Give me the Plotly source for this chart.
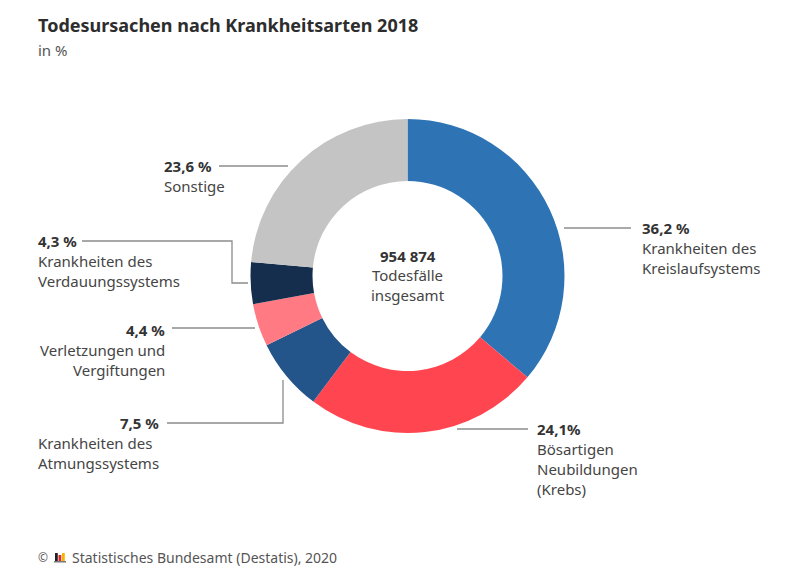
import plotly.graph_objects as go

# ---- data ----
categories = [
    "Krankheiten des Kreislaufsystems",
    "Bösartigen Neubildungen (Krebs)",
    "Krankheiten des Atmungssystems",
    "Verletzungen und Vergiftungen",
    "Krankheiten des Verdauungssystems",
    "Sonstige",
]
values = [36.2, 24.1, 7.5, 4.4, 4.3, 23.6]
value_labels = ["36,2 %", "24,1%", "7,5 %", "4,4 %", "4,3 %", "23,6 %"]
colors = ["#2e74b5", "#ff4650", "#23548a", "#ff7a82", "#152e4d", "#c4c4c4"]
total_label = "954 874"
center_lines = ["Todesfälle", "insgesamt"]

# page has an 8px body margin; figure sized to fit the window
OFF = 8
W, H = 800 - 2 * OFF, 588 - 2 * OFF
FONT = "Noto Sans"
TXT = "#454545"
BOLD = "#333333"
LINE = "#8c8c8c"
FS = 15


def px(x):
    return (x - OFF) / W


def py(y):
    return 1 - (y - OFF) / H


cx, cy, R = 407.5, 276, 157

fig = go.Figure()
fig.add_trace(go.Pie(
    labels=categories,
    values=values,
    hole=0.605,
    sort=False,
    direction="clockwise",
    rotation=0,
    marker=dict(colors=colors, line=dict(width=0)),
    textinfo="none",
    hovertemplate="%{label}: %{value} %<extra></extra>",
    domain=dict(x=[px(cx - R), px(cx + R)], y=[py(cy + R), py(cy - R)]),
    showlegend=False,
))

ann = []
shapes = []


def text(x, y, s, bold=False, anchor="left", size=FS, color=None):
    ann.append(dict(
        x=px(x), y=py(y), xref="paper", yref="paper",
        text=f"<b>{s}</b>" if bold else s,
        showarrow=False, xanchor=anchor, yanchor="middle",
        font=dict(family=FONT, size=size, color=color or (BOLD if bold else TXT)),
    ))


def line(pts):
    path = "M " + " L ".join(f"{px(x)},{py(y)}" for x, y in pts)
    shapes.append(dict(type="path", path=path, xref="paper", yref="paper",
                       line=dict(color=LINE, width=1.3)))


# title
text(36, 25, "Todesursachen nach Krankheitsarten 2018", bold=True, size=18, color="#2d2d2d")
text(36, 50, "in %", size=15, color="#555555")

# center
text(cx, 256, total_label, bold=True, anchor="center")
text(cx, 275, center_lines[0], anchor="center")
text(cx, 295, center_lines[1], anchor="center")

# 36,2 %
line([(564, 228), (631, 228)])
text(640, 228, value_labels[0], bold=True)
text(640, 248, "Krankheiten des")
text(640, 268, "Kreislaufsystems")

# 24,1%
line([(457, 429), (528, 429)])
text(535, 429, value_labels[1], bold=True)
text(535, 449, "Bösartigen")
text(535, 469, "Neubildungen")
text(535, 489, "(Krebs)")

# 7,5 %
line([(167, 423), (283, 423), (283, 380)])
text(161, 423, value_labels[2], bold=True, anchor="right")
text(36, 443, "Krankheiten des")
text(36, 463, "Atmungssystems")

# 4,4 %
line([(172, 328), (255, 328)])
text(167, 330, value_labels[3], bold=True, anchor="right")
text(167, 350, "Verletzungen und", anchor="right")
text(167, 370, "Vergiftungen", anchor="right")

# 4,3 %
line([(82, 241), (232, 241), (232, 283), (248, 283)])
text(36, 241, value_labels[4], bold=True)
text(36, 261, "Krankheiten des")
text(36, 281, "Verdauungssystems")

# 23,6 %
line([(219, 166), (288, 166)])
text(162, 166, value_labels[5], bold=True)
text(162, 186, "Sonstige")

# footer with small logo
text(36, 557, "©", size=12, color="#555555")
for i, (c, h) in enumerate(zip(["#222222", "#e0262e", "#f2b705"], [8, 6, 8])):
    shapes.append(dict(type="rect", xref="paper", yref="paper",
                       x0=px(55 + i * 3.5), x1=px(57.8 + i * 3.5), y0=py(561), y1=py(561 - h),
                       fillcolor=c, line=dict(width=0)))
shapes.append(dict(type="rect", xref="paper", yref="paper",
                   x0=px(54), x1=px(66), y0=py(562.5), y1=py(561),
                   fillcolor="#777777", line=dict(width=0)))
text(70, 557, "Statistisches Bundesamt (Destatis), 2020", size=14, color="#555555")

fig.update_layout(
    width=W, height=H,
    margin=dict(l=0, r=0, t=0, b=0),
    paper_bgcolor="white", plot_bgcolor="white",
    annotations=ann, shapes=shapes,
    font=dict(family=FONT),
)

fig.write_html("out.html")
